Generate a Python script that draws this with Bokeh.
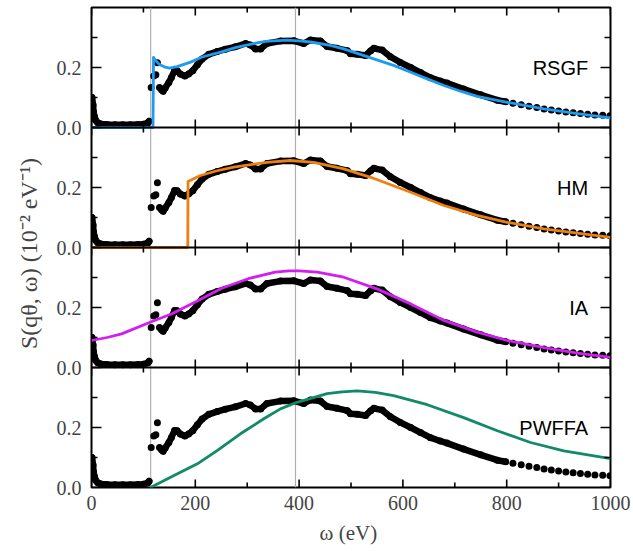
import numpy as np
from bokeh.plotting import figure
from bokeh.models import Range1d, FixedTicker, Span, Label
from bokeh.embed import file_html
from bokeh.resources import INLINE

# ---------------- data ----------------
# experimental points (same in every panel)
exp_low_x = [1, 3, 4, 6, 8, 12, 18, 30, 45, 60, 75, 90, 100, 108, 111]
exp_low_y = [0.100, 0.075, 0.052, 0.035, 0.024, 0.016, 0.012, 0.010, 0.009, 0.009,
             0.009, 0.010, 0.011, 0.015, 0.021]
exp_iso_x = [115, 120, 124, 127, 131]
exp_iso_y = [0.133, 0.172, 0.176, 0.216, 0.133]
exp_main_x = [135, 138, 142, 149, 154, 160, 165, 171, 180, 187, 195, 204, 213, 226,
              242, 258, 277, 297, 306, 316, 326, 338, 364, 390, 409, 422, 441, 454,
              473, 493, 499, 512, 528, 538, 544, 560, 576, 595, 615, 634, 653, 672,
              685, 717, 750, 782, 798]
exp_main_y = [0.126, 0.121, 0.132, 0.150, 0.167, 0.190, 0.189, 0.178, 0.172, 0.178,
              0.189, 0.209, 0.228, 0.244, 0.253, 0.261, 0.269, 0.280, 0.275, 0.262,
              0.262, 0.280, 0.288, 0.289, 0.280, 0.292, 0.288, 0.270, 0.264, 0.256,
              0.246, 0.244, 0.240, 0.256, 0.264, 0.258, 0.236, 0.217, 0.200, 0.183,
              0.166, 0.155, 0.148, 0.128, 0.109, 0.091, 0.086]
exp_tail_x = [812, 828, 843, 858, 872, 886, 900, 914, 928, 942, 956, 970, 985, 999]
exp_tail_y = [0.081, 0.076, 0.071, 0.067, 0.062, 0.058, 0.055, 0.052, 0.049, 0.047,
              0.044, 0.042, 0.041, 0.039]

# theory curves
rsgf_x = [0, 118.5, 119.5, 123, 131, 142, 150, 165, 191, 213, 249, 277, 310, 335, 377,
          400, 422, 460, 486, 538, 582, 615, 647, 679, 711, 743, 801, 872, 936, 1000]
rsgf_y = [0, 0, 0.234, 0.224, 0.210, 0.201, 0.198, 0.203, 0.218, 0.235, 0.251, 0.266,
          0.279, 0.287, 0.291, 0.289, 0.285, 0.274, 0.262, 0.232, 0.207, 0.184, 0.162,
          0.140, 0.121, 0.104, 0.084, 0.062, 0.046, 0.032]

hm_x = [0, 185.5, 186, 210, 240, 274, 338, 383, 428, 486, 538, 615, 679, 743, 801,
        872, 936, 1000]
hm_y = [0, 0, 0.220, 0.240, 0.255, 0.268, 0.284, 0.290, 0.284, 0.262, 0.234, 0.184,
        0.140, 0.107, 0.084, 0.062, 0.048, 0.034]

ia_x = [0, 30, 58, 113, 155, 200, 251, 302, 354, 380, 400, 435, 486, 550, 615, 679,
        743, 801, 872, 936, 1000]
ia_y = [0.090, 0.100, 0.112, 0.151, 0.179, 0.218, 0.264, 0.296, 0.318, 0.322, 0.322,
        0.318, 0.301, 0.262, 0.212, 0.157, 0.118, 0.090, 0.066, 0.048, 0.034]

pwffa_x = [113.7, 159, 204, 242, 287, 332, 364, 396, 454, 483, 512, 547, 582, 647,
           717, 782, 846, 910, 1000]
pwffa_y = [0.0, 0.040, 0.079, 0.123, 0.179, 0.229, 0.262, 0.284, 0.313, 0.319, 0.322,
           0.317, 0.306, 0.276, 0.233, 0.189, 0.150, 0.122, 0.096]

ref_lines = [114, 393]

panel_names = ["RSGF", "HM", "IA", "PWFFA"]
panel_colors = ["#1e9bf0", "#f07f12", "#d21ef0", "#108a68"]
panel_curves = [(rsgf_x, rsgf_y), (hm_x, hm_y), (ia_x, ia_y), (pwffa_x, pwffa_y)]

x_ticks = [0, 200, 400, 600, 800, 1000]
x_minor = [100, 300, 500, 700, 900]
y_ticks = [0.0, 0.2]
y_minor = [0.1, 0.3]
y_top = 0.4
x_lo, x_hi = 0, 1000

# ---------------- figure ----------------
SERIF = "Liberation Serif"
SANS = "Liberation Sans"
FS = "20px"
n = len(panel_names)
FW, PH = 519, 120          # frame width, height of one panel (px)

p = figure(frame_width=FW, frame_height=PH * n,
           x_range=Range1d(x_lo, x_hi), y_range=Range1d(0, n * y_top),
           output_backend="svg", toolbar_location=None,
           min_border_left=91, min_border_right=22, min_border_top=7,
           min_border_bottom=0)
p.grid.visible = False
p.outline_line_color = "black"
p.outline_line_width = 2
p.background_fill_color = "white"
p.border_fill_color = "white"

# one stacked y range per panel (panel 0 on top)
names = [nm.lower() for nm in panel_names]
for k, nm in enumerate(names):
    start = -(n - 1 - k) * y_top
    p.extra_y_ranges[nm] = Range1d(start, start + n * y_top)

# left axis: tick labels for every panel, plus the shared label
stack_ticks, stack_labels = [], {}
for k in range(n):
    base = (n - 1 - k) * y_top
    for t in y_ticks:
        v = round(base + t, 3)
        stack_ticks.append(v)
        stack_labels[v] = f"{t:.1f}"
ya = p.yaxis[0]
ya.ticker = FixedTicker(ticks=sorted(stack_ticks), minor_ticks=[])
ya.major_label_overrides = stack_labels
ya.major_tick_in = 0
ya.major_tick_out = 0
ya.minor_tick_in = 0
ya.minor_tick_out = 0
ya.axis_line_color = None
ya.major_label_text_font = SERIF
ya.major_label_text_font_size = FS
ya.major_label_standoff = 10
ya.axis_label = "S(qθ, ω)   (10⁻² eV⁻¹)"
ya.axis_label_text_font = SERIF
ya.axis_label_text_font_size = "24px"
ya.axis_label_text_font_style = "normal"
ya.axis_label_standoff = 12

xa = p.xaxis[0]
xa.ticker = FixedTicker(ticks=x_ticks, minor_ticks=[])
xa.major_tick_in = 0
xa.major_tick_out = 0
xa.minor_tick_in = 0
xa.minor_tick_out = 0
xa.axis_line_color = None
xa.major_label_text_font = SERIF
xa.major_label_text_font_size = FS
xa.major_label_standoff = 8
xa.axis_label = "ω  (eV)"
xa.axis_label_text_font = SERIF
xa.axis_label_text_font_size = "21px"
xa.axis_label_text_font_style = "normal"
xa.axis_label_standoff = 8

for loc in ref_lines:
    p.add_layout(Span(location=loc, dimension="height", line_color="#b0b0b0",
                      line_width=1.2, level="underlay"))

for k, nm in enumerate(names):
    # experimental data: dense runs drawn as a thick band plus dots
    for xs, ys in [(exp_low_x, exp_low_y), (exp_main_x, exp_main_y)]:
        p.line(xs, ys, line_color="black", line_width=6.5, line_join="round",
               line_cap="round", y_range_name=nm)
    for xs, ys in [(exp_low_x, exp_low_y), (exp_iso_x, exp_iso_y),
                   (exp_main_x, exp_main_y), (exp_tail_x, exp_tail_y)]:
        p.scatter(xs, ys, size=7, fill_color="black", line_color=None,
                  y_range_name=nm)

    cx, cy = panel_curves[k]
    p.line(cx, cy, line_color=panel_colors[k], line_width=2.8, line_join="round",
           y_range_name=nm)

    p.add_layout(Label(x=957, y=0.2, y_range_name=nm, text=panel_names[k],
                       text_align="right", text_baseline="middle", text_font=SANS,
                       text_font_size=FS, text_color="black"))

# inward ticks as thin filled bars from every panel edge (px -> data units)
ypx = y_top / PH
xpx = (x_hi - x_lo) / FW
hw = 0.8  # half tick width, px
for k, nm in enumerate(names):
    L, R, B, T = [], [], [], []
    for ticks, ln in [(x_ticks, 8), (x_minor, 5)]:
        for t in ticks:
            L += [t - hw * xpx, t - hw * xpx]
            R += [t + hw * xpx, t + hw * xpx]
            B += [0.0, y_top - ln * ypx]
            T += [ln * ypx, y_top]
    for ticks, ln in [(y_ticks, 10), (y_minor, 6)]:
        for t in ticks:
            L += [x_lo, x_hi - ln * xpx]
            R += [x_lo + ln * xpx, x_hi]
            B += [t - hw * ypx, t - hw * ypx]
            T += [t + hw * ypx, t + hw * ypx]
    p.quad(left=L, right=R, bottom=B, top=T, fill_color="black", line_color=None,
           y_range_name=nm)

# panel separators
for k in range(1, n):
    p.add_layout(Span(location=0, dimension="width", y_range_name=names[k - 1],
                      line_color="black", line_width=2, level="overlay"))

open("out.html", "w").write(file_html(p, INLINE))
